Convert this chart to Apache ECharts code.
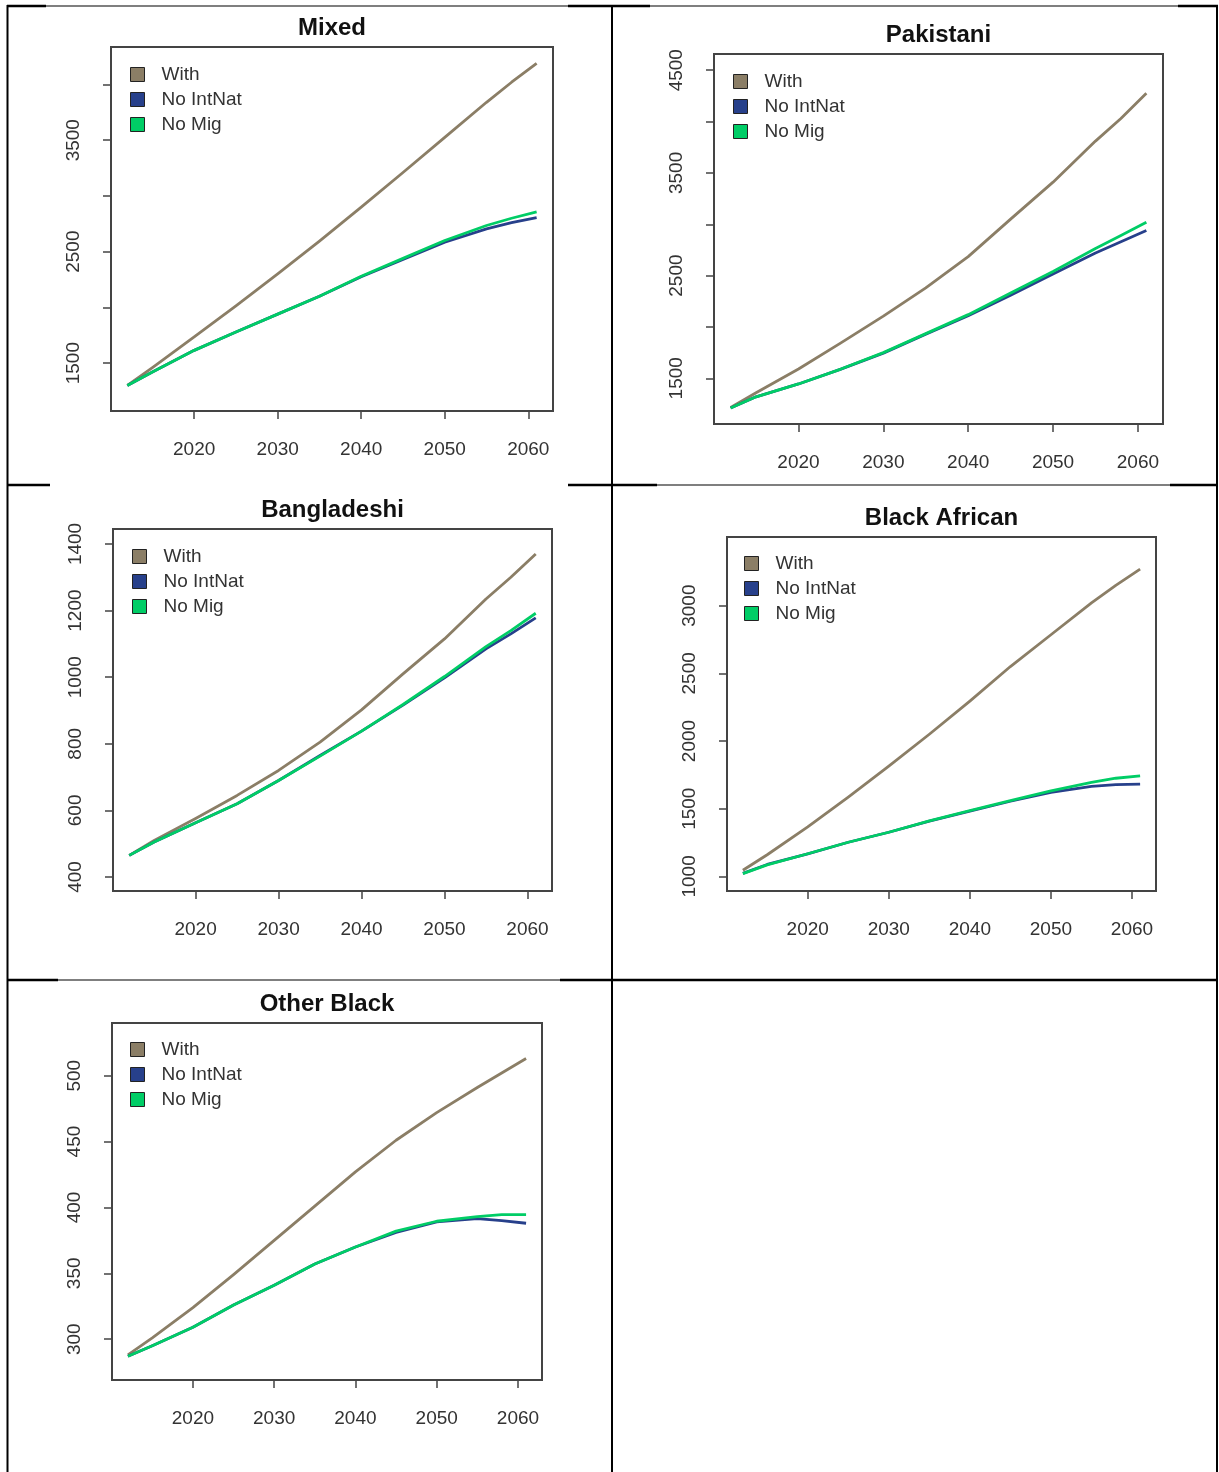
<!DOCTYPE html>
<html><head><meta charset="utf-8">
<script src="https://cdn.jsdelivr.net/npm/echarts@6/dist/echarts.min.js"></script>
<style>html,body{margin:0;padding:0;background:#fff}#c{width:1219px;height:1472px}</style>
</head><body><div id="c"></div>
<script>
// ---------- DATA ----------
const years = [2012, 2015, 2020, 2025, 2030, 2035, 2040, 2045, 2050, 2055, 2058, 2061];
const seriesNames = ['With', 'No IntNat', 'No Mig'];
const panelTitles = ['Mixed', 'Pakistani', 'Bangladeshi', 'Black African', 'Other Black'];
const xTickValues = [2020, 2030, 2040, 2050, 2060];

const mixedWith     = [1300, 1460, 1735, 2015, 2300, 2595, 2900, 3210, 3525, 3840, 4020, 4190];
const mixedNoIntNat = [1300, 1420, 1615, 1780, 1940, 2100, 2275, 2430, 2585, 2705, 2760, 2805];
const mixedNoMig    = [1300, 1420, 1615, 1780, 1940, 2100, 2280, 2440, 2600, 2735, 2800, 2857];

const pakWith       = [1215, 1360, 1590, 1845, 2105, 2380, 2685, 3050, 3410, 3810, 4030, 4275];
const pakNoIntNat   = [1210, 1320, 1445, 1590, 1745, 1930, 2110, 2310, 2515, 2720, 2830, 2940];
const pakNoMig      = [1210, 1320, 1445, 1590, 1750, 1935, 2120, 2330, 2540, 2765, 2890, 3020];

const bangWith      = [465, 510, 576, 645, 720, 805, 902, 1010, 1115, 1235, 1300, 1370];
const bangNoIntNat  = [465, 505, 563, 620, 690, 765, 838, 916, 998, 1085, 1130, 1178];
const bangNoMig     = [465, 505, 563, 620, 690, 763, 838, 918, 1002, 1092, 1140, 1192];

const bafWith       = [1045, 1160, 1365, 1585, 1815, 2050, 2295, 2550, 2785, 3020, 3150, 3270];
const bafNoIntNat   = [1022, 1088, 1167, 1252, 1326, 1408, 1482, 1555, 1620, 1665, 1678, 1681];
const bafNoMig      = [1020, 1085, 1167, 1252, 1326, 1410, 1485, 1560, 1632, 1695, 1725, 1743];

const obWith        = [288, 301, 324, 349, 375, 401, 427, 451, 472, 491, 502, 513];
const obNoIntNat    = [287, 295, 309, 326, 341, 357, 370, 381, 389, 391.5, 390, 388];
const obNoMig       = [287, 295, 309, 326, 341, 357, 370, 382, 389.5, 393, 394.5, 394.5];

const mixedYTicks = [1500, 2000, 2500, 3000, 3500, 4000];
const mixedYLabels = [1500, 2500, 3500];
const pakYTicks = [1500, 2000, 2500, 3000, 3500, 4000, 4500];
const pakYLabels = [1500, 2500, 3500, 4500];
const bangYTicks = [400, 600, 800, 1000, 1200, 1400];
const bafYTicks = [1000, 1500, 2000, 2500, 3000];
const obYTicks = [300, 350, 400, 450, 500];

// ---------- LAYOUT / STYLE ----------
const colors = ['#8B7E66', '#27408B', '#00CD66'];
const FONT = '"Liberation Sans", Arial, sans-serif';
const plain = v => String(v);
const panels = [
  { data: [mixedWith, mixedNoIntNat, mixedNoMig], yTicks: mixedYTicks, yLabels: mixedYLabels,
    grid: { left: 111, top: 47, width: 442, height: 364 }, yMin: 1071, yMax: 4336, legend: { left: 130, top: 65 } },
  { data: [pakWith, pakNoIntNat, pakNoMig], yTicks: pakYTicks, yLabels: pakYLabels,
    grid: { left: 714, top: 54, width: 449, height: 370 }, yMin: 1055, yMax: 4658, legend: { left: 733, top: 72 } },
  { data: [bangWith, bangNoIntNat, bangNoMig], yTicks: bangYTicks, yLabels: bangYTicks,
    grid: { left: 113, top: 529, width: 439, height: 362 }, yMin: 358, yMax: 1445, legend: { left: 132, top: 547 } },
  { data: [bafWith, bafNoIntNat, bafNoMig], yTicks: bafYTicks, yLabels: bafYTicks,
    grid: { left: 727, top: 537, width: 429, height: 354 }, yMin: 892, yMax: 3507, legend: { left: 744, top: 554 } },
  { data: [obWith, obNoIntNat, obNoMig], yTicks: obYTicks, yLabels: obYTicks,
    grid: { left: 112, top: 1023, width: 430, height: 357 }, yMin: 269, yMax: 540, legend: { left: 130, top: 1040 } }
];

const option = { animation: false, backgroundColor: '#fff',
  title: [], grid: [], xAxis: [], yAxis: [], legend: [], series: [], graphic: [] };

panels.forEach((p, i) => {
  const g = p.grid;
  option.title.push({ text: panelTitles[i], left: g.left + g.width / 2, top: g.top - 31, textAlign: 'center', padding: 0,
    textStyle: { fontFamily: FONT, fontSize: 24, fontWeight: 'bold', color: '#111' } });
  option.grid.push({ left: g.left, top: g.top, width: g.width, height: g.height, show: true,
    borderColor: '#444', borderWidth: 2, backgroundColor: 'transparent', containLabel: false });
  option.xAxis.push({ type: 'value', gridIndex: i, min: 2010.04, max: 2062.96,
    axisLine: { show: false }, splitLine: { show: false },
    axisTick: { show: true, length: 8, lineStyle: { color: '#444', width: 1.5 }, customValues: xTickValues },
    axisLabel: { customValues: xTickValues, formatter: plain, margin: 29, fontFamily: FONT, fontSize: 19, color: '#333' } });
  option.yAxis.push({ type: 'value', gridIndex: i, min: p.yMin, max: p.yMax,
    axisLine: { show: false }, splitLine: { show: false },
    axisTick: { show: true, length: 8, lineStyle: { color: '#444', width: 1.5 }, customValues: p.yTicks },
    axisLabel: { customValues: p.yLabels, formatter: plain, rotate: 90, margin: 28, fontFamily: FONT, fontSize: 19, color: '#333' } });
  option.legend.push({ orient: 'vertical', left: p.legend.left, top: p.legend.top, padding: 0,
    data: seriesNames, icon: 'rect', itemWidth: 14, itemHeight: 14, itemGap: 6,
    itemStyle: { borderColor: '#222', borderWidth: 1 },
    textStyle: { fontFamily: FONT, fontSize: 19, color: '#333', padding: [0, 0, 0, 12] } });
  seriesNames.forEach((name, k) => {
    option.series.push({ type: 'line', name: name, xAxisIndex: i, yAxisIndex: i,
      data: years.map((y, j) => [y, p.data[k][j]]), showSymbol: false, symbol: 'none',
      itemStyle: { color: colors[k] }, lineStyle: { color: colors[k], width: 2.8, join: 'round' }, z: 2 + k });
  });
});

// table borders
function seg(x1, y1, x2, y2, w) {
  option.graphic.push({ type: 'line', silent: true, shape: { x1, y1, x2, y2 },
    style: { stroke: '#000', lineWidth: w }, z: 100 });
}
seg(7, 6, 46, 6, 2.5); seg(46, 6, 568, 6, 1.2); seg(568, 6, 650, 6, 2.5); seg(650, 6, 1178, 6, 1.2); seg(1178, 6, 1218, 6, 2.5);
seg(7, 485, 50, 485, 2.5); seg(568, 485, 657, 485, 2.5); seg(657, 485, 1170, 485, 1.2); seg(1170, 485, 1218, 485, 2.5);
seg(7, 980, 58, 980, 2.5); seg(58, 980, 560, 980, 1.2); seg(560, 980, 1218, 980, 2.5);
seg(7.5, 5, 7.5, 1472, 2); seg(612, 5, 612, 1472, 2); seg(1217, 5, 1217, 1472, 2);

const chart = echarts.init(document.getElementById('c'), null, { renderer: 'canvas' });
chart.setOption(option);
</script></body></html>
